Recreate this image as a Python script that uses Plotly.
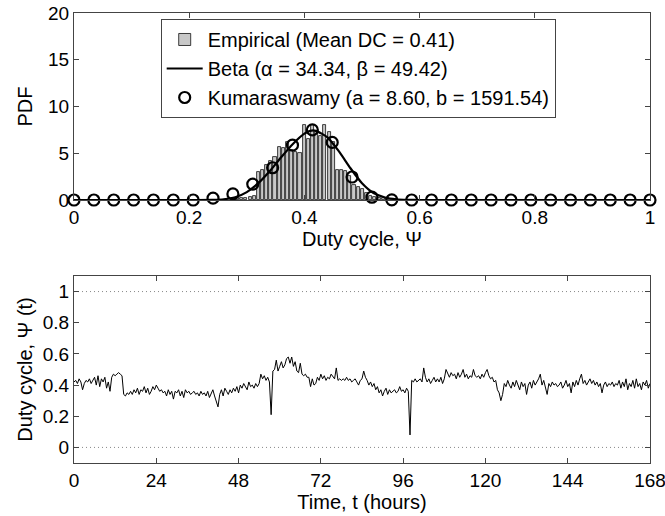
import numpy as np
import plotly.graph_objects as go

# ---------------- data ----------------
# Empirical histogram (PDF), bins of width ~0.0072 starting at 0.284
hist_start = 0.284
hist_binw = 0.00722
hist_pdf = [0.2, 0.25, 0.25, 0.3, 0.45,
            3.0, 3.2, 3.75, 4.2, 4.6, 5.7, 5.6, 6.2, 5.36, 5.1, 5.0,
            8.07, 6.5, 8.0, 7.25, 6.9, 8.0, 7.25, 6.2,
            3.2, 3.2, 3.1, 2.6, 1.64, 1.43, 1.18, 0.7, 0.46, 0.36,
            0.2, 0.2, 0.18, 0.15, 0.1]

# Beta fit curve
beta_x = [0.0, 0.1, 0.2, 0.24, 0.26, 0.28, 0.30, 0.32, 0.34, 0.36, 0.38, 0.40,
          0.41, 0.42, 0.44, 0.46, 0.48, 0.50, 0.52, 0.54, 0.56, 0.58, 0.60,
          0.7, 0.8, 0.9, 1.0]
beta_y = [0.0, 0.0, 0.0, 0.02, 0.08, 0.3, 0.85, 1.8, 3.1, 4.6, 6.0, 7.1,
          7.4, 7.4, 6.7, 5.2, 3.4, 1.8, 0.75, 0.27, 0.08, 0.02, 0.0,
          0.0, 0.0, 0.0, 0.0]

# Kumaraswamy fit (30 points evenly spaced on [0, 1])
kum_n = 30
kum_y = [0, 0, 0, 0, 0, 0, 0, 0.2, 0.65, 1.7, 3.45, 5.87, 7.5, 6.16, 2.46,
         0.3, 0.02, 0, 0, 0, 0, 0, 0, 0, 0, 0, 0, 0, 0, 0]

# Duty cycle time series, one value every 0.5 h from 0 to 168 h
dt_hours = 0.5
duty = [
    0.42, 0.43, 0.41, 0.44, 0.42, 0.37, 0.41, 0.43, 0.42, 0.44,
    0.41, 0.43, 0.45, 0.40, 0.46, 0.39, 0.44, 0.42, 0.45, 0.38,
    0.42, 0.36, 0.45, 0.47, 0.46, 0.47, 0.48, 0.47, 0.46, 0.34,
    0.33, 0.35, 0.34, 0.36, 0.34, 0.37, 0.35, 0.38, 0.34, 0.37,
    0.36, 0.39, 0.35, 0.38, 0.34, 0.36, 0.39, 0.37, 0.40, 0.38,
    0.36, 0.37, 0.35, 0.36, 0.33, 0.37, 0.34, 0.36, 0.31, 0.36,
    0.35, 0.37, 0.33, 0.36, 0.32, 0.37, 0.35, 0.36, 0.34, 0.35,
    0.36, 0.34, 0.35, 0.33, 0.36, 0.34, 0.35, 0.33, 0.36, 0.32,
    0.35, 0.37, 0.33, 0.29, 0.26, 0.34, 0.37, 0.33, 0.38, 0.36,
    0.34, 0.37, 0.35, 0.38, 0.36, 0.39, 0.35, 0.40, 0.38, 0.41,
    0.39, 0.37, 0.42, 0.39, 0.40, 0.38, 0.41, 0.39, 0.41, 0.47,
    0.44, 0.46, 0.43, 0.45, 0.42, 0.21, 0.49, 0.50, 0.56, 0.49,
    0.52, 0.55, 0.51, 0.53, 0.57, 0.58, 0.54, 0.58, 0.52, 0.55,
    0.49, 0.48, 0.54, 0.47, 0.46, 0.47, 0.45, 0.45, 0.39, 0.44,
    0.40, 0.41, 0.45, 0.43, 0.47, 0.44, 0.46, 0.43, 0.45, 0.44,
    0.47, 0.45, 0.44, 0.51, 0.43, 0.44, 0.43, 0.44, 0.43, 0.45,
    0.43, 0.44, 0.42, 0.43, 0.44, 0.42, 0.40, 0.43, 0.44, 0.49,
    0.45, 0.43, 0.40, 0.42, 0.39, 0.41, 0.37, 0.39, 0.35, 0.37,
    0.33, 0.36, 0.38, 0.34, 0.37, 0.35, 0.36, 0.37, 0.35, 0.36,
    0.39, 0.36, 0.37, 0.35, 0.38, 0.36, 0.08, 0.43, 0.42, 0.44,
    0.42, 0.43, 0.44, 0.42, 0.51, 0.45, 0.42, 0.44, 0.41, 0.43,
    0.45, 0.42, 0.44, 0.42, 0.45, 0.41, 0.44, 0.50, 0.47, 0.45,
    0.48, 0.46, 0.47, 0.44, 0.48, 0.45, 0.47, 0.50, 0.45, 0.47,
    0.44, 0.46, 0.45, 0.50, 0.46, 0.45, 0.46, 0.44, 0.47, 0.45,
    0.48, 0.50, 0.46, 0.44, 0.45, 0.42, 0.43, 0.37, 0.35, 0.30,
    0.34, 0.41, 0.39, 0.43, 0.40, 0.38, 0.42, 0.39, 0.43, 0.40,
    0.37, 0.42, 0.39, 0.41, 0.34, 0.40, 0.42, 0.38, 0.43, 0.40,
    0.42, 0.44, 0.47, 0.40, 0.43, 0.38, 0.34, 0.41, 0.39, 0.42,
    0.40, 0.41, 0.39, 0.40, 0.42, 0.38, 0.40, 0.43, 0.39, 0.41,
    0.35, 0.42, 0.39, 0.43, 0.40, 0.44, 0.47, 0.41, 0.43, 0.40,
    0.42, 0.44, 0.41, 0.43, 0.40, 0.42, 0.39, 0.41, 0.35, 0.40,
    0.42, 0.39, 0.41, 0.40, 0.42, 0.39, 0.41, 0.40, 0.43, 0.38,
    0.42, 0.39, 0.44, 0.37, 0.41, 0.39, 0.43, 0.38, 0.44, 0.39,
    0.41, 0.37, 0.42, 0.40, 0.43, 0.38, 0.41,
]
ref_levels = [0, 1]

top_xticks = [0, 0.2, 0.4, 0.6, 0.8, 1]
top_yticks = [0, 5, 10, 15, 20]
bot_xticks = [0, 24, 48, 72, 96, 120, 144, 168]
bot_yticks = [0, 0.2, 0.4, 0.6, 0.8, 1]

labels = ["Empirical (Mean DC = 0.41)",
          "Beta (\u03b1 = 34.34, \u03b2 = 49.42)",
          "Kumaraswamy (a = 8.60, b = 1591.54)"]

# ---------------- figure ----------------
hist_x = [hist_start + k * hist_binw for k in range(len(hist_pdf))]
kum_x = list(np.linspace(0, 1, kum_n))
t_hours = [k * dt_hours for k in range(len(duty))]

FONT = "Liberation Sans, Arial, Helvetica, sans-serif"
AX = "#444444"

fig = go.Figure()
fig.add_trace(go.Bar(x=hist_x, y=hist_pdf, width=hist_binw * 0.75,
                     marker=dict(color="#c8c8c8", line=dict(color="#111", width=0.8)),
                     name=labels[0], xaxis="x", yaxis="y"))
fig.add_trace(go.Scatter(x=beta_x, y=beta_y, mode="lines",
                         line=dict(color="black", width=2.2, shape="spline", smoothing=0.6),
                         name=labels[1], xaxis="x", yaxis="y"))
fig.add_trace(go.Scatter(x=kum_x, y=kum_y, mode="markers",
                         marker=dict(symbol="circle-open", size=11, color="black",
                                     line=dict(width=2.2, color="black")),
                         cliponaxis=False,
                         name=labels[2], xaxis="x", yaxis="y"))
for lv in ref_levels:
    fig.add_trace(go.Scatter(x=[bot_xticks[0], bot_xticks[-1]], y=[lv, lv], mode="lines",
                             line=dict(color="#888", width=1, dash="1px,3px"),
                             showlegend=False, xaxis="x2", yaxis="y2", hoverinfo="skip"))
fig.add_trace(go.Scatter(x=t_hours, y=duty, mode="lines",
                         line=dict(color="black", width=1),
                         showlegend=False, xaxis="x2", yaxis="y2"))

axis_common = dict(showline=True, linecolor=AX, linewidth=1, mirror="ticks",
                   ticks="inside", ticklen=5, tickcolor=AX, showgrid=False,
                   zeroline=False, automargin=False, ticklabeloverflow="allow",
                   tickfont=dict(size=19, color="black", family=FONT))

fig.update_layout(
    template="none",
    width=665, height=516,
    margin=dict(l=74, r=15, t=13, b=53, autoexpand=False),
    paper_bgcolor="white", plot_bgcolor="white",
    font=dict(family=FONT, color="black", size=19),
    bargap=0,
    xaxis=dict(domain=[0, 1], range=[0, 1], tickvals=top_xticks,
               ticktext=[f"{v:g}" for v in top_xticks], anchor="y",
               title=dict(text="Duty cycle, \u03a8", font=dict(size=20), standoff=2),
               **axis_common),
    yaxis=dict(domain=[0.5844, 1], range=[0, 20], tickvals=top_yticks, anchor="x",
               title=dict(text="PDF", font=dict(size=20), standoff=10),
               **axis_common),
    xaxis2=dict(domain=[0, 1], range=[0, 168], tickvals=bot_xticks, anchor="y2",
                title=dict(text="Time, t (hours)", font=dict(size=20), standoff=2),
                **axis_common),
    yaxis2=dict(domain=[0, 0.4156], range=[-0.1, 1.1], tickvals=bot_yticks,
                ticktext=[f"{v:g}" for v in bot_yticks], anchor="x2",
                title=dict(text="Duty cycle, \u03a8 (t)", font=dict(size=20), standoff=4),
                **axis_common),
    legend=dict(x=0.1505, y=0.9867, xanchor="left", yanchor="top",
                bgcolor="white", bordercolor=AX, borderwidth=1,
                font=dict(size=20, family=FONT), itemwidth=36,
                tracegroupgap=0),
    showlegend=True,
)

fig.write_html("out.html")
